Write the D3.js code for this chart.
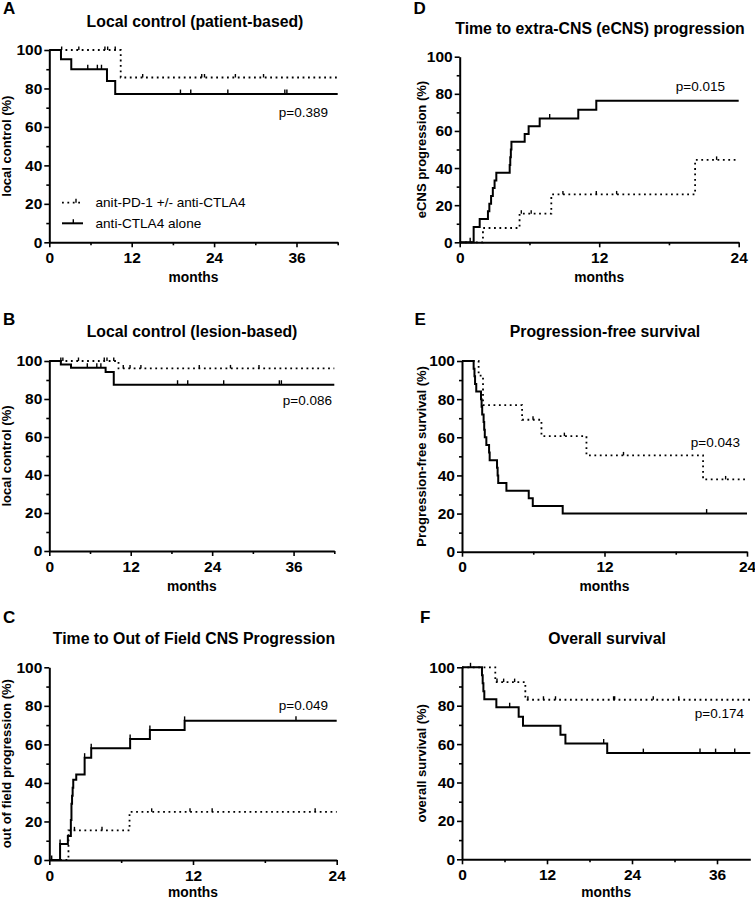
<!DOCTYPE html>
<html><head><meta charset="utf-8">
<script src="https://cdn.jsdelivr.net/npm/d3@7"></script>
<style>
body{margin:0;background:#fff;}
svg{display:block;font-family:"Liberation Sans",Arial,Helvetica,sans-serif;}
</style></head><body>
<svg id="c" width="755" height="900"></svg>
<script>
// ---------- tick labels ----------
const yTicks = [0, 20, 40, 60, 80, 100];
const yMinor = [10, 30, 50, 70, 90];
const xTicks36 = [0, 12, 24, 36];
const xMinor42 = [6, 18, 30, 42];
const xMinor41 = [6, 18, 30];
const xTicks24 = [0, 12, 24];
const xMinor24 = [6, 18];
const legendLabels = ["anit-PD-1 +/- anti-CTLA4", "anti-CTLA4 alone"];

// ---------- Panel A: Local control (patient-based) ----------
const aPd1Steps = [[0,100],[10.4,85.7]];
const aPd1Cens = [1.8, 4.3, 8.1, 8.5, 9.6, 13.6, 22.2, 22.6, 27.1, 31.2];
const aCtlaSteps = [[0,100],[1.7,95.2],[3.2,90.0],[8.4,83.9],[9.6,77.1]];
const aCtlaCens = [5.6, 7.0, 7.6, 19.1, 20.6, 26.0, 34.3, 34.6];

// ---------- Panel B: Local control (lesion-based) ----------
const bPd1Steps = [[0,100],[10.2,96.1]];
const bPd1Cens = [1.7, 2.0, 4.3, 8.1, 8.5, 9.5, 10.9, 11.9, 13.5, 22.1, 26.7, 30.9];
const bCtlaSteps = [[0,100],[1.7,98.2],[3.2,96.5],[8.3,94.2],[9.5,87.5]];
const bCtlaCens = [5.6, 7.0, 7.6, 18.9, 20.4, 25.7, 33.9, 34.2];

// ---------- Panel C: Time to out of field CNS progression ----------
const cPd1Steps = [[0,0],[1.6,15.4],[6.7,25.0]];
const cPd1Cens = [2.1, 4.4, 8.55, 11.75, 13.6, 22.2];
const cCtlaSteps = [[0,0],[0.9,8.3],[1.55,12.5],[1.8,20.8],[1.85,29.2],[1.9,33.3],[1.95,37.5],[2.0,41.7],[2.25,44.4],[2.95,53.1],[3.5,58.0],[6.75,62.8],[8.4,67.5],[11.3,72.2]];
const cCtlaCens = [0.2, 0.9, 2.95, 3.5, 6.75, 8.4, 11.3, 20.6];

// ---------- Panel D: Time to extra-CNS progression ----------
const dPd1Steps = [[0,0],[2.0,7.7],[5.15,15.4],[7.88,25.8],[20.25,44.4]];
const dPd1Cens = [5.3, 6.15, 8.88, 11.75, 13.5, 22.1];
const dCtlaSteps = [[0,0],[1.2,8.3],[1.72,12.5],[2.43,16.7],[2.55,20.8],[2.7,25.0],[2.85,29.2],[3.0,33.3],[3.15,37.5],[4.3,41.7],[4.35,45.8],[4.4,50.0],[4.45,54.2],[5.59,58.3],[5.93,62.5],[6.88,66.7],[10.2,71.4],[11.75,76.2]];
const dCtlaCens = [0.9, 7.74];

// ---------- Panel E: Progression-free survival ----------
const ePd1Steps = [[0,100],[1.4,92.3],[1.77,76.9],[5.06,69.2],[6.69,60.6],[10.48,50.5],[20.3,37.9]];
const ePd1Cens = [5.98, 8.62, 13.6, 22.2];
const eCtlaSteps = [[0,100],[0.98,96],[1.05,92],[1.1,88],[1.2,84],[1.6,80],[1.65,76],[1.7,72],[1.82,68],[1.87,64],[1.92,60],[2.05,56],[2.28,52],[2.33,48],[2.95,44],[3.0,40],[3.05,36],[3.74,32],[5.62,28],[5.96,24],[8.48,20]];
const eCtlaCens = [20.6];

// ---------- Panel F: Overall survival ----------
const fPd1Steps = [[0,100],[4.7,92.3],[8.94,83.1]];
const fPd1Cens = [4.94, 5.88, 7.43, 9.3, 11.5, 13.2, 21.4, 21.55, 27.0, 30.6];
const fCtlaSteps = [[0,100],[2.82,95.8],[2.92,91.7],[3.02,87.5],[3.15,83.3],[4.85,79.2],[8.0,74.2],[8.61,69.5],[13.9,64.9],[14.6,60.3],[20.5,55.3]];
const fCtlaCens = [1.2, 6.73, 20.0, 25.6, 33.6, 35.8, 38.5];

// ---------- layout (positions only) ----------
const panels = [
  {letter:"A", title:"Local control (patient-based)", ylab:"local control (%)", p:"p=0.389",
   x0:49.3, x1:337.7, yt:50, yb:242.3, xMax:42, xt:xTicks36, xm:xMinor42,
   pd1:aPd1Steps, pd1c:aPd1Cens, ctla:aCtlaSteps, ctlac:aCtlaCens,
   lx:3, ly:14, tx:195, ty:27, ylx:11, px:328, py:117, my:282, legend:true},
  {letter:"B", title:"Local control (lesion-based)", ylab:"local control (%)", p:"p=0.086",
   x0:49.3, x1:334.3, yt:361, yb:551, xMax:42, xt:xTicks36, xm:xMinor42,
   pd1:bPd1Steps, pd1c:bPd1Cens, ctla:bCtlaSteps, ctlac:bCtlaCens,
   lx:3, ly:325, tx:192, ty:336.5, ylx:11, px:332, py:405, my:590.5},
  {letter:"C", title:"Time to Out of Field CNS Progression", ylab:"out of field progression (%)", p:"p=0.049",
   x0:49.3, x1:336.7, yt:667.3, yb:860, xMax:24, xt:xTicks24, xm:xMinor24,
   pd1:cPd1Steps, pd1c:cPd1Cens, ctla:cCtlaSteps, ctlac:cCtlaCens,
   lx:3, ly:622.5, tx:194, ty:644, ylx:11, px:328, py:710, my:896.5},
  {letter:"D", title:"Time to extra-CNS (eCNS) progression", ylab:"eCNS progression (%)", p:"p=0.015",
   x0:459.7, x1:738.7, yt:56.7, yb:242.3, xMax:24, xt:xTicks24, xm:xMinor24,
   pd1:dPd1Steps, pd1c:dPd1Cens, ctla:dCtlaSteps, ctlac:dCtlaCens,
   lx:413.5, ly:13.5, tx:600, ty:34, ylx:426, px:725, py:91, my:282},
  {letter:"E", title:"Progression-free survival", ylab:"Progression-free survival (%)", p:"p=0.043",
   x0:462, x1:747, yt:361, yb:551.7, xMax:24, xt:xTicks24, xm:xMinor24,
   pd1:ePd1Steps, pd1c:ePd1Cens, ctla:eCtlaSteps, ctlac:eCtlaCens,
   lx:414.5, ly:325, tx:605, ty:336.5, ylx:425.5, px:740, py:446.7, my:590.5},
  {letter:"F", title:"Overall survival", ylab:"overall survival (%)", p:"p=0.174",
   x0:462, x1:750.3, yt:667.3, yb:859.3, xMax:40.7, xt:xTicks36, xm:xMinor41,
   pd1:fPd1Steps, pd1c:fPd1Cens, ctla:fCtlaSteps, ctlac:fCtlaCens,
   lx:420, ly:622.5, tx:607, ty:644, ylx:426, px:744, py:718, my:896.5}
];

const svg = d3.select("#c");
const DOT = "1.8,3.6";

function valueAt(steps, t) {
  let v = steps[0][1];
  for (const s of steps) if (s[0] <= t) v = s[1];
  return v;
}

function drawPanel(p) {
  const g = svg.append("g");
  const x = d3.scaleLinear().domain([0, p.xMax]).range([p.x0, p.x1]);
  const y = d3.scaleLinear().domain([0, 100]).range([p.yb, p.yt]);

  // axes
  const yMin = g.append("g").attr("transform", `translate(${p.x0},0)`)
    .call(d3.axisLeft(y).tickValues(yMinor).tickSize(3).tickSizeOuter(0).tickFormat(""));
  const yMaj = g.append("g").attr("transform", `translate(${p.x0},0)`)
    .call(d3.axisLeft(y).tickValues(yTicks).tickSize(5).tickSizeOuter(0).tickPadding(2));
  const xMin = g.append("g").attr("transform", `translate(0,${p.yb})`)
    .call(d3.axisBottom(x).tickValues(p.xm).tickSize(3).tickSizeOuter(0).tickFormat(""));
  const xMaj = g.append("g").attr("transform", `translate(0,${p.yb})`)
    .call(d3.axisBottom(x).tickValues(p.xt).tickSize(5).tickSizeOuter(0).tickPadding(4.5));
  [yMin, yMaj, xMin, xMaj].forEach(a => {
    a.select(".domain").attr("stroke", "#000").attr("stroke-width", 2);
    a.selectAll(".tick line").attr("stroke", "#000").attr("stroke-width", 1.6);
    a.selectAll(".tick text").attr("fill", "#000").style("font-size", "15.5px")
      .style("font-weight", "bold").style("font-family", '"Liberation Sans",Arial,sans-serif');
  });
  yMin.select(".domain").remove();
  xMin.select(".domain").remove();

  const line = d3.line().curve(d3.curveStepAfter).x(d => x(d[0])).y(d => y(d[1]));
  function curve(steps, cens, dotted) {
    const pts = steps.concat([[p.xMax, steps[steps.length - 1][1]]]);
    g.append("path").attr("d", line(pts)).attr("fill", "none").attr("stroke", "#000")
      .attr("stroke-width", dotted ? 1.8 : 2)
      .attr("stroke-dasharray", dotted ? DOT : null);
    g.selectAll(null).data(cens).join("line")
      .attr("x1", d => x(d)).attr("x2", d => x(d))
      .attr("y1", d => y(valueAt(steps, d)))
      .attr("y2", d => y(valueAt(steps, d)) - (dotted ? 3.5 : 4.5))
      .attr("stroke", "#000").attr("stroke-width", 1.4);
  }
  curve(p.pd1, p.pd1c, true);
  curve(p.ctla, p.ctlac, false);

  // texts
  g.append("text").attr("x", p.lx).attr("y", p.ly).text(p.letter)
    .style("font-size", "17px").style("font-weight", "bold");
  g.append("text").attr("x", p.tx).attr("y", p.ty).attr("text-anchor", "middle").text(p.title)
    .style("font-size", "15.8px").style("font-weight", "bold");
  g.append("text").attr("transform", `translate(${p.ylx},${(p.yt + p.yb) / 2}) rotate(-90)`)
    .attr("text-anchor", "middle").text(p.ylab)
    .style("font-size", "13px").style("font-weight", "bold");
  g.append("text").attr("x", (p.x0 + p.x1) / 2).attr("y", p.my).attr("text-anchor", "middle")
    .text("months").style("font-size", "13.8px").style("font-weight", "bold");
  g.append("text").attr("x", p.px).attr("y", p.py).attr("text-anchor", "end").text(p.p)
    .style("font-size", "13.5px");

  if (p.legend) {
    const L = [{y: 202.7, dotted: true, tick: 76}, {y: 223.3, dotted: false, tick: 73.3}];
    L.forEach((l, i) => {
      g.append("line").attr("x1", 62).attr("x2", 83).attr("y1", l.y).attr("y2", l.y)
        .attr("stroke", "#000").attr("stroke-width", l.dotted ? 1.8 : 2)
        .attr("stroke-dasharray", l.dotted ? DOT : null);
      g.append("line").attr("x1", l.tick).attr("x2", l.tick).attr("y1", l.y).attr("y2", l.y - 4)
        .attr("stroke", "#000").attr("stroke-width", 1.4);
      g.append("text").attr("x", 95.5).attr("y", l.y + 4.6).text(legendLabels[i])
        .style("font-size", "13.6px");
    });
  }
}

panels.forEach(drawPanel);
</script>
</body></html>
